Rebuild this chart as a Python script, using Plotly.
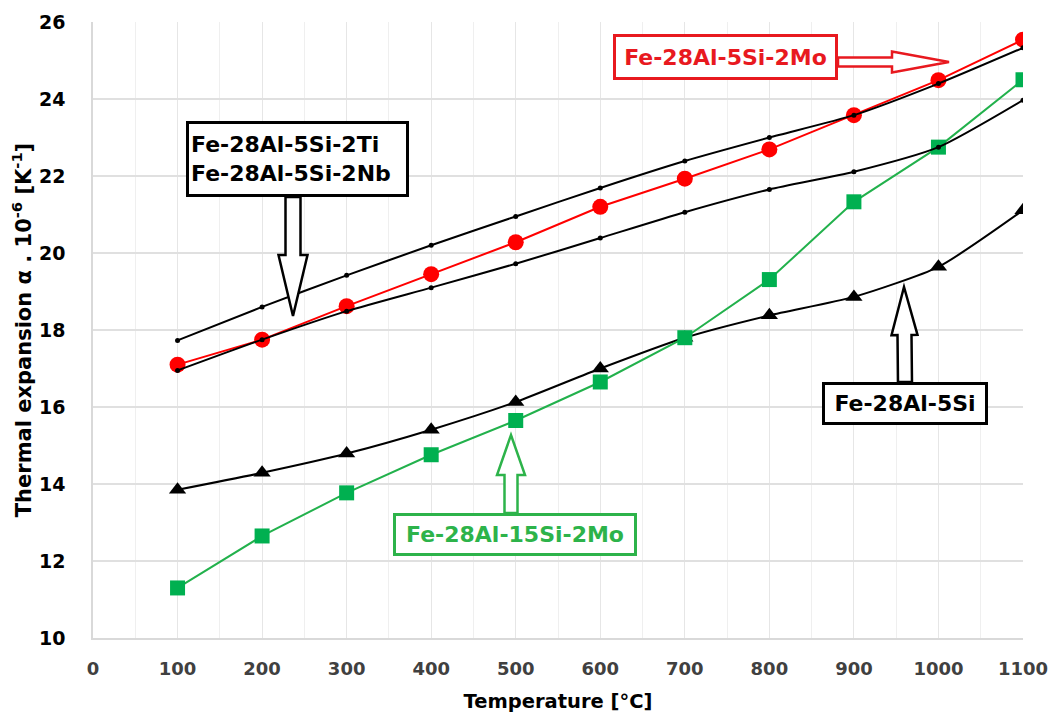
import math
import plotly.graph_objects as go

temps = [100, 200, 300, 400, 500, 600, 700, 800, 900, 1000, 1100]
fe28al5si2mo = [17.1, 17.75, 18.62, 19.45, 20.28, 21.2, 21.93, 22.69, 23.58, 24.49, 25.54]
fe28al5si2ti = [17.73, 18.6, 19.42, 20.2, 20.95, 21.69, 22.39, 23.0, 23.58, 24.4, 25.33]
fe28al5si2nb = [16.95, 17.75, 18.49, 19.1, 19.72, 20.39, 21.06, 21.65, 22.11, 22.75, 23.97]
fe28al15si2mo = [11.3, 12.65, 13.77, 14.76, 15.65, 16.65, 17.8, 19.31, 21.33, 22.75, 24.5]
fe28al5si = [13.85, 14.29, 14.79, 15.41, 16.13, 17.0, 17.8, 18.38, 18.86, 19.64, 21.11]

W, H = 1053, 713
PX0, PX1, PY0, PY1 = 93, 1023, 22, 638
FONT = "DejaVu Sans"

fig = go.Figure()
fig.add_trace(go.Scatter(x=temps, y=fe28al5si, mode="lines+markers",
                         line=dict(color="black", width=2, shape="spline", smoothing=0.6),
                         marker=dict(symbol="triangle-up", size=15, color="black")))
fig.add_trace(go.Scatter(x=temps, y=fe28al15si2mo, mode="lines+markers",
                         line=dict(color="#22b14c", width=2),
                         marker=dict(symbol="square", size=15, color="#00b050")))
fig.add_trace(go.Scatter(x=temps, y=fe28al5si2mo, mode="lines+markers",
                         line=dict(color="#ff0000", width=2),
                         marker=dict(symbol="circle", size=16, color="#ff0000")))
fig.add_trace(go.Scatter(x=temps, y=fe28al5si2ti, mode="lines+markers",
                         line=dict(color="black", width=2, shape="spline", smoothing=0.6),
                         marker=dict(symbol="circle", size=5, color="black")))
fig.add_trace(go.Scatter(x=temps, y=fe28al5si2nb, mode="lines+markers",
                         line=dict(color="black", width=2, shape="spline", smoothing=0.6),
                         marker=dict(symbol="circle", size=5, color="black")))


def px2paper(px, py):
    return (px - PX0) / (PX1 - PX0), (PY1 - py) / (PY1 - PY0)


def block_arrow(tail, tip, shw, hhw, hlen, color):
    tx, ty = tail
    hx, hy = tip
    L = math.hypot(hx - tx, hy - ty)
    ux, uy = (hx - tx) / L, (hy - ty) / L
    nx, ny = -uy, ux
    bx, by = hx - ux * hlen, hy - uy * hlen
    pts = [
        (tx + nx * shw, ty + ny * shw),
        (bx + nx * shw, by + ny * shw),
        (bx + nx * hhw, by + ny * hhw),
        (hx, hy),
        (bx - nx * hhw, by - ny * hhw),
        (bx - nx * shw, by - ny * shw),
        (tx - nx * shw, ty - ny * shw),
    ]
    path = ""
    for i, (x, y) in enumerate(pts):
        a, b = px2paper(x, y)
        path += ("M" if i == 0 else "L") + f"{a:.5f},{b:.5f} "
    path += "Z"
    fig.add_shape(type="path", path=path, xref="paper", yref="paper",
                  line=dict(color=color, width=2.5), fillcolor="white", layer="above")


block_arrow((838, 62), (949, 62), 4.5, 10.5, 57, "#e8191f")
block_arrow((293, 197), (293, 316), 7.5, 14.5, 61, "black")
block_arrow((511, 513), (511, 435), 6.5, 14, 40, "#2db34a")
block_arrow((905, 382), (904, 287), 7, 13, 48, "black")


def box(text, cx, cy, w, h, color, align="center"):
    x, y = px2paper(cx, cy)
    fig.add_annotation(text=text, x=x, y=y, xref="paper", yref="paper",
                       xanchor="center", yanchor="middle", showarrow=False,
                       width=w - 10, height=h - 10, align=align,
                       bordercolor=color, borderwidth=3, borderpad=2, bgcolor="white",
                       font=dict(family=FONT, size=22, color=color, weight="bold"))


box("Fe-28Al-5Si-2Mo", 725.5, 57, 225, 46, "#e8191f")
box("Fe-28Al-5Si-2Ti<br>Fe-28Al-5Si-2Nb", 297.5, 159, 223, 76, "black", align="left")
box("Fe-28Al-15Si-2Mo", 515, 534.5, 244, 43, "#2db34a")
box("Fe-28Al-5Si", 905, 403.5, 166, 43, "black")

fig.update_layout(
    width=W, height=H,
    margin=dict(l=PX0, r=W - PX1, t=PY0, b=H - PY1, autoexpand=False),
    plot_bgcolor="white", paper_bgcolor="white",
    showlegend=False,
    font=dict(family=FONT, color="black"),
    xaxis=dict(range=[0, 1100], tickmode="linear", tick0=0, dtick=100,
               automargin=False,
               showgrid=True, gridcolor="#e6e6e6", gridwidth=1,
               minor=dict(dtick=50, showgrid=True, gridcolor="#efefef", gridwidth=1),
               showline=True, linecolor="#d9d9d9", linewidth=1.5, zeroline=False,
               tickfont=dict(family=FONT, size=18, color="#404040", weight="bold"),
               ticklabelstandoff=14, ticks="",
               title=dict(text="Temperature [°C]",
                          font=dict(family=FONT, size=19.5, color="black", weight="bold"),
                          standoff=16)),
    yaxis=dict(range=[10, 26], tickmode="linear", tick0=10, dtick=2,
               automargin=False,
               showgrid=True, gridcolor="#e0e0e0", gridwidth=1.5,
               showline=True, linecolor="#d9d9d9", linewidth=1.5, zeroline=False,
               tickfont=dict(family=FONT, size=19, color="black", weight="bold"),
               ticklabelstandoff=22, ticks="",
               title=dict(text="Thermal expansion α . 10<sup>-6</sup> [K<sup>-1</sup>]",
                          font=dict(family=FONT, size=21, color="black", weight="bold"),
                          standoff=2)),
)

fig.write_html("out.html")
